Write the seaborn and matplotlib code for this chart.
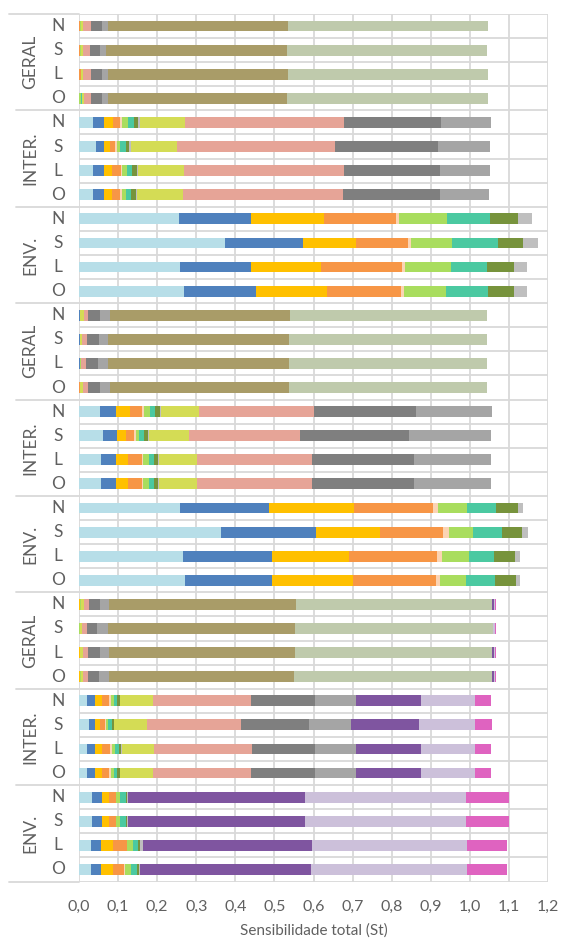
import numpy as np
import pandas as pd
import matplotlib
matplotlib.use("Agg")
import matplotlib.pyplot as plt
import seaborn as sns
from matplotlib.lines import Line2D
from matplotlib.transforms import blended_transform_factory

# Total sensitivity index (St) of each of the 18 input factors, per output (N, S, L, O)
factors = [f"X{i:02d}" for i in range(1, 19)]
outputs = ["N", "S", "L", "O"]
group_names = ["GERAL", "INTER.", "ENV.", "GERAL", "INTER.", "ENV.", "GERAL", "INTER.", "ENV."]

geral_1 = [
    [0, 0, 0, 0.003, 0, 0.002, 0, 0, 0, 0.006, 0.020, 0.029, 0.014, 0.461, 0.511, 0, 0, 0],
    [0, 0, 0, 0.002, 0, 0.002, 0, 0, 0, 0.005, 0.018, 0.028, 0.014, 0.464, 0.512, 0, 0, 0],
    [0, 0, 0, 0.004, 0, 0.002, 0, 0, 0, 0.005, 0.020, 0.029, 0.014, 0.461, 0.511, 0, 0, 0],
    [0, 0, 0, 0, 0, 0.004, 0.003, 0, 0, 0.005, 0.019, 0.027, 0.015, 0.460, 0.513, 0, 0, 0],
]
inter_1 = [
    [0.037, 0.026, 0.024, 0.019, 0.003, 0.016, 0.015, 0.011, 0.004, 0.115, 0.409, 0.248, 0.126, 0, 0, 0, 0, 0],
    [0.044, 0.021, 0.014, 0.014, 0.003, 0.010, 0.013, 0.008, 0.006, 0.118, 0.403, 0.265, 0.132, 0, 0, 0, 0, 0],
    [0.037, 0.026, 0.021, 0.024, 0.003, 0.012, 0.013, 0.012, 0.004, 0.117, 0.410, 0.245, 0.127, 0, 0, 0, 0, 0],
    [0.037, 0.026, 0.021, 0.022, 0.003, 0.010, 0.015, 0.011, 0.004, 0.118, 0.408, 0.249, 0.124, 0, 0, 0, 0, 0],
]
env_1 = [
    [0.256, 0.184, 0.188, 0.182, 0.009, 0.123, 0.110, 0.072, 0.034, 0, 0, 0, 0, 0, 0, 0, 0, 0],
    [0.373, 0.199, 0.137, 0.132, 0.008, 0.106, 0.116, 0.064, 0.040, 0, 0, 0, 0, 0, 0, 0, 0, 0],
    [0.258, 0.182, 0.179, 0.207, 0.007, 0.118, 0.094, 0.068, 0.034, 0, 0, 0, 0, 0, 0, 0, 0, 0],
    [0.269, 0.183, 0.182, 0.189, 0.008, 0.109, 0.107, 0.066, 0.034, 0, 0, 0, 0, 0, 0, 0, 0, 0],
]
geral_2 = [
    [0, 0.003, 0, 0, 0, 0, 0, 0, 0, 0.009, 0.012, 0.029, 0.026, 0.460, 0.505, 0, 0, 0],
    [0, 0.002, 0, 0, 0, 0.001, 0, 0, 0, 0.005, 0.013, 0.030, 0.024, 0.462, 0.506, 0, 0, 0],
    [0, 0.002, 0, 0, 0, 0.004, 0, 0, 0, 0, 0.013, 0.030, 0.024, 0.464, 0.506, 0, 0, 0],
    [0, 0, 0, 0.003, 0, 0, 0, 0, 0, 0.008, 0.013, 0.029, 0.026, 0.458, 0.507, 0, 0, 0],
]
inter_2 = [
    [0.053, 0.041, 0.036, 0.032, 0.004, 0.015, 0.014, 0.013, 0.002, 0.098, 0.292, 0.261, 0.196, 0, 0, 0, 0, 0],
    [0.062, 0.036, 0.021, 0.022, 0.004, 0.009, 0.013, 0.009, 0.003, 0.102, 0.285, 0.279, 0.209, 0, 0, 0, 0, 0],
    [0.056, 0.038, 0.032, 0.035, 0.003, 0.014, 0.013, 0.011, 0.003, 0.097, 0.293, 0.261, 0.198, 0, 0, 0, 0, 0],
    [0.056, 0.038, 0.032, 0.035, 0.003, 0.014, 0.013, 0.011, 0.003, 0.097, 0.293, 0.261, 0.198, 0, 0, 0, 0, 0],
]
env_2 = [
    [0.258, 0.229, 0.216, 0.202, 0.014, 0.073, 0.074, 0.058, 0.013, 0, 0, 0, 0, 0, 0, 0, 0, 0],
    [0.363, 0.243, 0.163, 0.163, 0.014, 0.062, 0.075, 0.051, 0.014, 0, 0, 0, 0, 0, 0, 0, 0, 0],
    [0.267, 0.226, 0.199, 0.224, 0.013, 0.070, 0.064, 0.053, 0.012, 0, 0, 0, 0, 0, 0, 0, 0, 0],
    [0.270, 0.224, 0.207, 0.213, 0.010, 0.067, 0.073, 0.054, 0.010, 0, 0, 0, 0, 0, 0, 0, 0, 0],
]
geral_3 = [
    [0, 0, 0.003, 0, 0, 0.003, 0, 0, 0, 0.007, 0.013, 0.028, 0.024, 0.476, 0.503, 0.006, 0.002, 0.003],
    [0, 0, 0, 0, 0, 0.003, 0, 0, 0, 0.004, 0.013, 0.027, 0.027, 0.478, 0.507, 0.001, 0.004, 0.002],
    [0, 0, 0.003, 0, 0, 0, 0, 0, 0, 0.008, 0.013, 0.029, 0.025, 0.474, 0.504, 0.006, 0.002, 0.004],
    [0, 0, 0.003, 0, 0, 0.003, 0, 0, 0, 0.005, 0.013, 0.028, 0.026, 0.471, 0.507, 0.006, 0.002, 0.004],
]
inter_3 = [
    [0.021, 0.019, 0.018, 0.020, 0.003, 0.008, 0.009, 0.006, 0.002, 0.083, 0.251, 0.165, 0.104, 0, 0, 0.165, 0.138, 0.041],
    [0.025, 0.017, 0.011, 0.013, 0.003, 0.004, 0.011, 0.005, 0, 0.085, 0.240, 0.174, 0.108, 0, 0, 0.174, 0.144, 0.043],
    [0.021, 0.019, 0.020, 0.020, 0.004, 0.008, 0.010, 0.006, 0.003, 0.080, 0.252, 0.162, 0.104, 0, 0, 0.165, 0.138, 0.041],
    [0.021, 0.019, 0.018, 0.020, 0.003, 0.008, 0.009, 0.006, 0.002, 0.083, 0.251, 0.165, 0.104, 0, 0, 0.165, 0.138, 0.041],
]
env_3 = [
    [0.034, 0.026, 0.017, 0.017, 0.001, 0.010, 0.016, 0.003, 0.002, 0, 0, 0, 0, 0, 0, 0.451, 0.412, 0.111],
    [0.034, 0.026, 0.017, 0.017, 0.001, 0.010, 0.016, 0.003, 0.002, 0, 0, 0, 0, 0, 0, 0.451, 0.412, 0.111],
    [0.030, 0.027, 0.029, 0.036, 0.002, 0.013, 0.014, 0.006, 0.006, 0, 0, 0, 0, 0, 0, 0.432, 0.397, 0.104],
    [0.030, 0.027, 0.029, 0.029, 0.003, 0.014, 0.016, 0.005, 0.003, 0, 0, 0, 0, 0, 0, 0.437, 0.399, 0.104],
]

factor_colors = [
    "#B7DEE8", "#4F81BD", "#FFC000", "#F79646", "#FBD4B4", "#A9DD5E",
    "#4BC9A1", "#77933C", "#BFBFBF", "#D4DC55", "#E6A497", "#7F7F7F",
    "#A5A5A5", "#A99C68", "#BFCAAC", "#7F55A0", "#CCC0DA", "#DF63C0",
]

x_ticks = [0.0, 0.1, 0.2, 0.3, 0.4, 0.5, 0.6, 0.7, 0.8, 0.9, 1.0, 1.1, 1.2]

# ---- assemble the long table -------------------------------------------
blocks = [geral_1, inter_1, env_1, geral_2, inter_2, env_2, geral_3, inter_3, env_3]
row_ids = [f"{g}{b}_{o}" for b, g in enumerate(group_names) for o in outputs]
table = pd.DataFrame([r for blk in blocks for r in blk], columns=factors)
table.insert(0, "row", row_ids)
cumulative = table[factors].cumsum(axis=1)

# ---- figure ---------------------------------------------------------------
sns.set_style("white")
plt.rcParams["font.family"] = ["Lato", "DejaVu Sans"]

W, H = 565, 942
fig = plt.figure(figsize=(W / 100, H / 100), dpi=100)
ax = fig.add_axes([79 / W, 60.5 / H, 469 / W, 867.5 / H])

grid_c = "#D9D9D9"
text_c = "#606060"

# stacked bars: draw cumulative totals from the last factor to the first
for j in reversed(range(len(factors))):
    part = pd.DataFrame({"row": row_ids, "end": cumulative[factors[j]].values})
    sns.barplot(data=part, x="end", y="row", order=row_ids, orient="h",
                color=factor_colors[j], saturation=1, width=0.45,
                linewidth=0, errorbar=None, ax=ax, zorder=2)

n_rows = len(row_ids)
ax.set_xlim(0, 1.2)
ax.set_ylim(n_rows - 0.5, -0.5)

for x in x_ticks:
    ax.axvline(x, color=grid_c, lw=1.3, zorder=0)
for k in range(n_rows + 1):
    ax.axhline(k - 0.5, color=grid_c, lw=1.3, zorder=0)

for s in ax.spines.values():
    s.set_visible(False)

ax.set_xticks(x_ticks)
ax.set_xticklabels([f"{v:.1f}".replace(".", ",") for v in x_ticks])
ax.tick_params(axis="x", length=0, pad=13, labelsize=11.5, labelcolor=text_c)
ax.set_yticks([])
ax.set_ylabel("")
ax.set_xlabel("Sensibilidade total (St)", fontsize=11, color=text_c, labelpad=7)

# multi-level category labels on the left
tr = blended_transform_factory(fig.transFigure, ax.transData)
for b, g in enumerate(group_names):
    y0 = b * 4
    ax.text(30 / W, y0 + 1.5, g, transform=tr, rotation=90, ha="center",
            va="center", fontsize=12.5, color=text_c)
    for i, o in enumerate(outputs):
        ax.text(58 / W, y0 + i, o, transform=tr, ha="center", va="center",
                fontsize=12.5, color=text_c)
for b in range(len(group_names) + 1):
    y = b * 4 - 0.5
    x_start = 9 / W if b in (0, len(group_names)) else 16 / W
    fig.add_artist(Line2D([x_start, 79 / W], [y, y], transform=tr,
                          color=grid_c, lw=1.3, clip_on=False))

fig.savefig("out.png", dpi=100)
